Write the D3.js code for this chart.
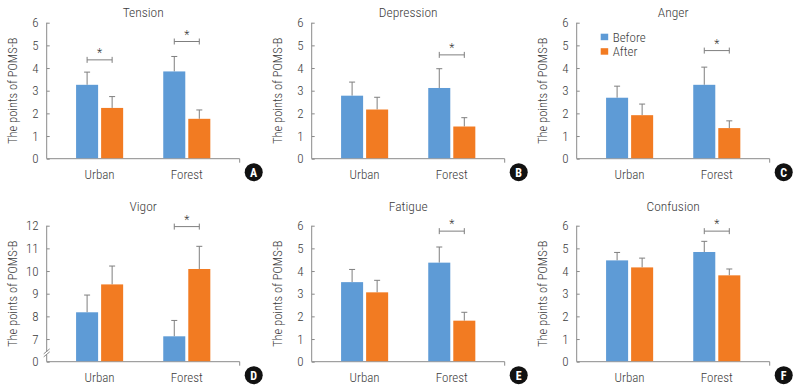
<!DOCTYPE html>
<html>
<head>
<meta charset="utf-8">
<script src="https://cdn.jsdelivr.net/npm/d3@7"></script>
<style>
  body { margin: 0; background: #fff; }
  svg text { font-family: "Roboto Condensed", Roboto, sans-serif; font-weight: 300; fill: #3c3c3c; }
</style>
</head>
<body>
<div id="chart"></div>
<script>
// ---- data ----
const categories = ["Urban", "Forest"];
const groups = ["Before", "After"];
const titles = ["Tension", "Depression", "Anger", "Vigor", "Fatigue", "Confusion"];
const letters = ["A", "B", "C", "D", "E", "F"];

// means [Urban, Forest]
const beforeMean = [[3.26, 3.85], [2.78, 3.12], [2.69, 3.26], [8.18, 7.12], [3.51, 4.37], [4.47, 4.84]];
const afterMean  = [[2.24, 1.76], [2.17, 1.42], [1.92, 1.35], [9.41, 10.09], [3.06, 1.81], [4.16, 3.81]];
// SD (upper error bar)
const beforeSD = [[0.56, 0.66], [0.60, 0.85], [0.51, 0.78], [0.76, 0.70], [0.56, 0.69], [0.35, 0.47]];
const afterSD  = [[0.50, 0.39], [0.54, 0.39], [0.49, 0.32], [0.81, 1.00], [0.53, 0.37], [0.41, 0.28]];
// significance bracket level per category (null = none)
const sigLevel = [[4.36, 5.17], [null, 4.58], [null, 4.77], [null, 11.96], [null, 5.76], [null, 5.76]];

const yTicksDefault = [0, 1, 2, 3, 4, 5, 6];
const yTicksVigor = [6, 7, 8, 9, 10, 11, 12];   // 6 drawn as "0" (broken axis)
const yTickLabelsVigor = ["0", "7", "8", "9", "10", "11", "12"];

const colors = { Before: "#5e9bd6", After: "#f27b22" };
const axisColor = "#8a8a8a";

const W = 799, H = 391;
const svg = d3.select("#chart").append("svg")
    .attr("width", W).attr("height", H);

// panel layout
const colX = [46.7, 311.7, 576.7];
const rowTop = [22.7, 225.7];
const plotW = 193, plotH = 136;

const x = d3.scaleBand().domain(categories).range([0, plotW])
    .paddingInner(0.46).paddingOuter(0.337);
const xg = d3.scaleBand().domain(groups).range([0, x.bandwidth()])
    .paddingInner(0.12);

titles.forEach((title, i) => {
    const col = i % 3, row = Math.floor(i / 3);
    const g = svg.append("g")
        .attr("transform", `translate(${colX[col]},${rowTop[row]})`);

    const isVigor = title === "Vigor";
    const ticks = isVigor ? yTicksVigor : yTicksDefault;
    const y = d3.scaleLinear().domain(d3.extent(ticks)).range([plotH, 0]);

    // title
    g.append("text")
        .attr("x", plotW / 2)
        .attr("y", row === 0 ? -6 : -15)
        .attr("text-anchor", "middle")
        .attr("font-size", 13.5)
        .text(title);

    // y label
    g.append("text")
        .attr("transform", `translate(${-30},${plotH / 2}) rotate(-90)`)
        .attr("text-anchor", "middle")
        .attr("font-size", 12.5)
        .text("The points of POMS-B");

    // y axis
    const yAxis = d3.axisRight(y).tickValues(ticks).tickSize(3)
        .tickFormat((d, k) => isVigor ? yTickLabelsVigor[k] : d);
    const ya = g.append("g").call(yAxis);
    ya.select(".domain").remove();
    ya.selectAll(".tick line").attr("stroke", axisColor);
    ya.selectAll(".tick text")
        .attr("x", -8).attr("text-anchor", "end")
        .attr("font-size", 13).attr("fill", null);
    ya.append("line").attr("x1", 0).attr("x2", 0)
        .attr("y1", 0).attr("y2", plotH)
        .attr("stroke", axisColor);

    if (isVigor) {
        const by = (y(7) + y(6)) / 2 + 4;
        ya.append("rect").attr("x", -3).attr("y", by - 2.5)
            .attr("width", 6).attr("height", 3).attr("fill", "#fff");
        [-2.5, 0.5].forEach(o => {
            ya.append("line")
                .attr("x1", -3).attr("x2", 3)
                .attr("y1", by + o + 2).attr("y2", by + o - 3)
                .attr("stroke", axisColor);
        });
    }

    // x axis
    g.append("line").attr("x1", 0).attr("x2", plotW)
        .attr("y1", plotH).attr("y2", plotH).attr("stroke", axisColor);
    g.append("line").attr("x1", plotW).attr("x2", plotW)
        .attr("y1", plotH).attr("y2", plotH + 4).attr("stroke", axisColor);
    g.selectAll(".cat")
        .data(categories)
        .enter().append("text")
        .attr("class", "cat")
        .attr("x", d => x(d) + x.bandwidth() / 2)
        .attr("y", plotH + 20)
        .attr("text-anchor", "middle")
        .attr("font-size", 13)
        .text(d => d);

    // bars
    const barData = [];
    categories.forEach((c, k) => {
        barData.push({ cat: c, grp: "Before", v: beforeMean[i][k], sd: beforeSD[i][k] });
        barData.push({ cat: c, grp: "After", v: afterMean[i][k], sd: afterSD[i][k] });
    });
    const bx = d => x(d.cat) + xg(d.grp);

    // error bars (behind bars)
    const eb = g.selectAll(".err").data(barData).enter().append("g").attr("class", "err");
    eb.append("line")
        .attr("x1", d => bx(d) + xg.bandwidth() / 2)
        .attr("x2", d => bx(d) + xg.bandwidth() / 2)
        .attr("y1", d => y(d.v))
        .attr("y2", d => y(d.v + d.sd))
        .attr("stroke", "#7f7f7f");
    eb.append("line")
        .attr("x1", d => bx(d) + xg.bandwidth() / 2 - 3)
        .attr("x2", d => bx(d) + xg.bandwidth() / 2 + 3)
        .attr("y1", d => y(d.v + d.sd))
        .attr("y2", d => y(d.v + d.sd))
        .attr("stroke", "#7f7f7f");

    g.selectAll(".bar").data(barData).enter().append("rect")
        .attr("class", "bar")
        .attr("x", bx)
        .attr("width", xg.bandwidth())
        .attr("y", d => y(d.v))
        .attr("height", d => plotH - y(d.v) - 0.5)
        .attr("fill", d => colors[d.grp]);

    // significance brackets
    categories.forEach((c, k) => {
        const lv = sigLevel[i][k];
        if (lv == null) return;
        const x1 = x(c) + xg("Before") + xg.bandwidth() / 2;
        const x2 = x(c) + xg("After") + xg.bandwidth() / 2;
        const yy = y(lv);
        const sg = g.append("g").attr("stroke", "#7f7f7f");
        sg.append("line").attr("x1", x1).attr("x2", x2).attr("y1", yy).attr("y2", yy);
        sg.append("line").attr("x1", x1).attr("x2", x1).attr("y1", yy - 3).attr("y2", yy + 3);
        sg.append("line").attr("x1", x2).attr("x2", x2).attr("y1", yy - 3).attr("y2", yy + 3);
        g.append("text")
            .attr("x", (x1 + x2) / 2)
            .attr("y", yy - 3)
            .attr("text-anchor", "middle")
            .attr("font-size", 12)
            .text("*");
    });

    // panel letter
    const lg = g.append("g")
        .attr("transform", `translate(${plotW + 14},${plotH + 13.5})`);
    lg.append("circle").attr("r", 9).attr("fill", "#111");
    lg.append("text")
        .attr("text-anchor", "middle").attr("dy", "0.36em")
        .attr("font-family", "Liberation Sans, Arial, sans-serif")
        .attr("font-size", 12)
        .style("font-weight", "bold")
        .style("fill", "#fff")
        .text(letters[i]);

    // legend in Anger panel
    if (title === "Anger") {
        const leg = g.selectAll(".leg").data(groups).enter().append("g")
            .attr("transform", (d, k) => `translate(${24},${11 + k * 14.5})`);
        leg.append("rect").attr("width", 7.5).attr("height", 6.5)
            .attr("fill", d => colors[d]);
        leg.append("text").attr("x", 12).attr("y", 3.5).attr("dy", "0.36em")
            .attr("font-size", 13).text(d => d);
    }
});
</script>
</body>
</html>
